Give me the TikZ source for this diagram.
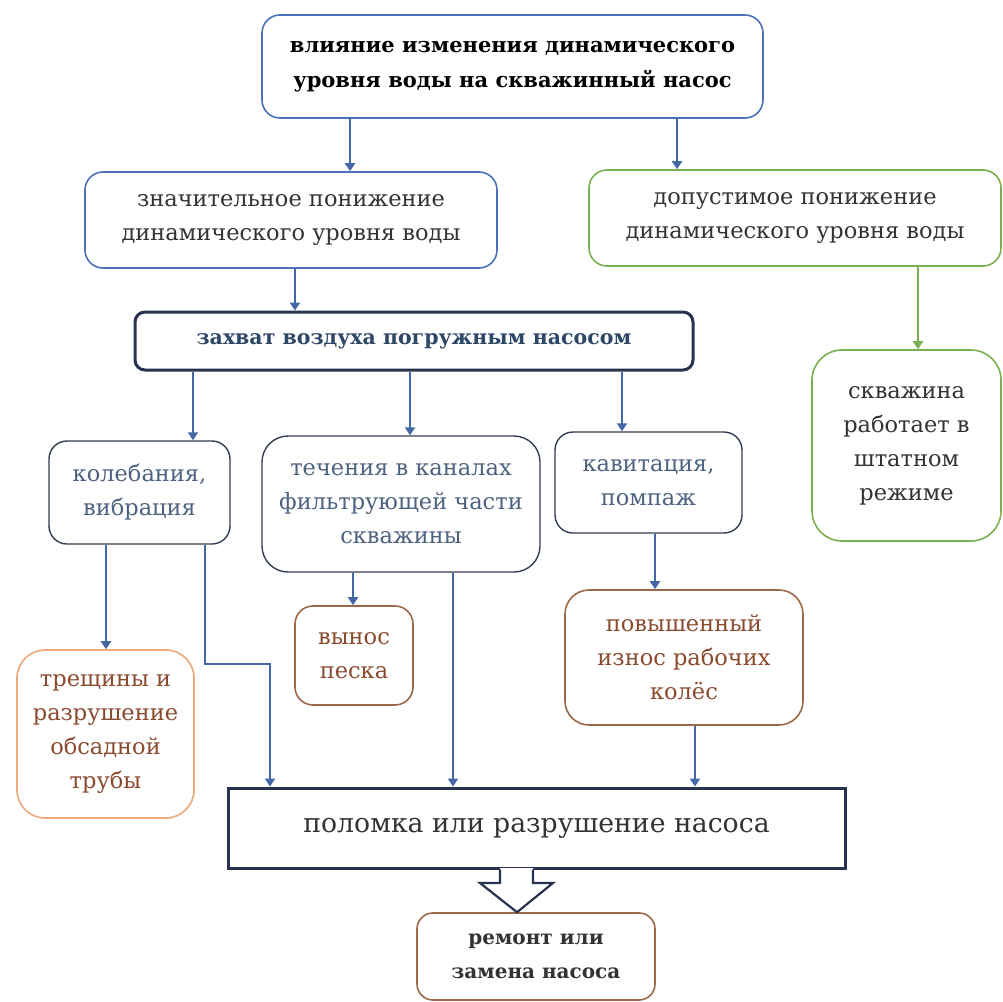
\documentclass[tikz,border=0pt]{standalone}
\usepackage{fontspec}
\setmainfont{DejaVu Serif}
\newfontfamily\tnr{DejaVu Serif}
\usetikzlibrary{arrows.meta,calc}
\definecolor{bblue}{HTML}{4A72B8}
\definecolor{ggreen}{HTML}{7AB051}
\definecolor{navy}{HTML}{27334F}
\definecolor{slate}{HTML}{333D52}
\definecolor{orng}{HTML}{EDA77A}
\definecolor{brwn}{HTML}{9C6848}
\definecolor{txtbrown}{HTML}{8A4A2E}
\definecolor{txtslate}{HTML}{4D6280}
\definecolor{arrblue}{HTML}{4467A6}
\definecolor{txtnavy}{HTML}{2D4766}
\definecolor{txtgray}{HTML}{333333}
\tikzset{
  base/.style={draw, fill=white, align=center, inner sep=0pt, rounded corners=18pt},
  bluebox/.style={base, draw=bblue, line width=1.6pt, text=txtgray},
  greenbox/.style={base, draw=ggreen, line width=1.6pt, text=txtgray},
  navybox/.style={base, draw=navy, line width=3pt, rounded corners=10pt, text=txtnavy, font=\tnr\bfseries\fontsize{20.5}{30}\selectfont},
  slatebox/.style={base, draw=slate, line width=1.4pt, text=txtslate},
  orangebox/.style={base, draw=orng, line width=1.6pt, text=txtbrown, rounded corners=28pt},
  brownbox/.style={base, draw=brwn, line width=1.6pt, text=txtbrown},
  mainfont/.style={font=\tnr\fontsize{22.5}{34}\selectfont},
  arr/.style={draw=arrblue, line width=2.8pt, -{Triangle[width=10pt,length=8pt]}},
  garr/.style={draw=ggreen, line width=2.8pt, -{Triangle[width=10pt,length=8pt]}},
}
\begin{document}
\begin{tikzpicture}[x=1pt,y=-1pt]
\useasboundingbox (0,0) rectangle (1003,1001);
% nodes
\node[bluebox, font=\tnr\bfseries\fontsize{21}{35}\selectfont, text=black, minimum width=501pt, minimum height=103pt] (top) at (512.5,66.5)
  {влияние изменения динамического\\уровня воды на скважинный насос};
\node[bluebox, mainfont, minimum width=412pt, minimum height=96pt] (sig) at (291,220)
  {значительное понижение\\динамического уровня воды};
\node[greenbox, mainfont, minimum width=412pt, minimum height=96pt] (allow) at (795,218)
  {допустимое понижение\\динамического уровня воды};
\node[navybox, minimum width=558pt, minimum height=58pt] (air) at (414,341)
  {захват воздуха погружным насосом};
\node[greenbox, mainfont, rounded corners=30pt, minimum width=189pt, minimum height=191pt] (ok) at (906.5,445.5)
  {скважина\\работает в\\штатном\\режиме};
\node[slatebox, mainfont, minimum width=181pt, minimum height=103pt] (vib) at (139.5,492.5)
  {колебания,\\вибрация};
\node[slatebox, mainfont, rounded corners=26pt, minimum width=278pt, minimum height=136pt] (flow) at (401,504)
  {течения в каналах\\фильтрующей части\\скважины};
\node[slatebox, mainfont, minimum width=187pt, minimum height=101pt] (cav) at (648.5,482.5)
  {кавитация,\\помпаж};
\node[orangebox, mainfont, minimum width=177pt, minimum height=168pt] (crack) at (105.5,734)
  {трещины и\\разрушение\\обсадной\\трубы};
\node[brownbox, mainfont, minimum width=118pt, minimum height=99pt] (sand) at (354,655.5)
  {вынос\\песка};
\node[brownbox, mainfont, rounded corners=24pt, minimum width=238pt, minimum height=135pt] (wear) at (684,657.5)
  {повышенный\\износ рабочих\\колёс};
\node[draw=navy, fill=white, line width=3pt, text=txtgray, font=\tnr\fontsize{26.7}{34}\selectfont, minimum width=617pt, minimum height=80pt, inner sep=0pt] (brk) at (536.5,828)
  {поломка или разрушение насоса};
\node[brownbox, font=\tnr\bfseries\fontsize{20}{34}\selectfont, text=txtgray, rounded corners=16pt, minimum width=238pt, minimum height=87pt] (rep) at (536,956.5)
  {ремонт или\\замена насоса};
% helper x coordinates
\coordinate (x350) at (350,0);
\coordinate (x677) at (677,0);
\coordinate (x295) at (295,0);
\coordinate (x918) at (918,0);
\coordinate (x193) at (193,0);
\coordinate (x410) at (410,0);
\coordinate (x622) at (622,0);
\coordinate (x106) at (106,0);
\coordinate (x205) at (205,0);
\coordinate (x270) at (270,0);
\coordinate (x353) at (353,0);
\coordinate (x453) at (453,0);
\coordinate (x655) at (655,0);
\coordinate (x695) at (695,0);
\coordinate (elbow) at (205,664);
% connectors
\draw[arr] (top.south -| x350) -- (sig.north -| x350);
\draw[arr] (top.south -| x677) -- (allow.north -| x677);
\draw[arr] (sig.south -| x295) -- (air.north -| x295);
\draw[garr] (allow.south -| x918) -- (ok.north -| x918);
\draw[arr] (air.south -| x193) -- (vib.north -| x193);
\draw[arr] (air.south -| x410) -- (flow.north -| x410);
\draw[arr] (air.south -| x622) -- (cav.north -| x622);
\draw[arr] (vib.south -| x106) -- (crack.north -| x106);
\draw[arr] (vib.south -| x205) -- (elbow) -| (brk.north -| x270);
\draw[arr] (flow.south -| x353) -- (sand.north -| x353);
\draw[arr] (flow.south -| x453) -- (brk.north -| x453);
\draw[arr] (cav.south -| x655) -- (wear.north -| x655);
\draw[arr] (wear.south -| x695) -- (brk.north -| x695);
% block arrow from brk to rep
\coordinate (ba1) at (500,868);
\coordinate (ba2) at (533,868);
\coordinate (tip) at (517,913);
\fill[white] (ba1) -- (500,883) -- (480,883) -- (tip) -- (553,883) -- (533,883) -- (ba2) -- cycle;
\draw[navy, line width=2.2pt, line join=miter] (brk.south -| ba1) -- (500,883) -- (480,883) -- (rep.north -| tip) -- (553,883) -- (533,883) -- (brk.south -| ba2);
\end{tikzpicture}
\end{document}
